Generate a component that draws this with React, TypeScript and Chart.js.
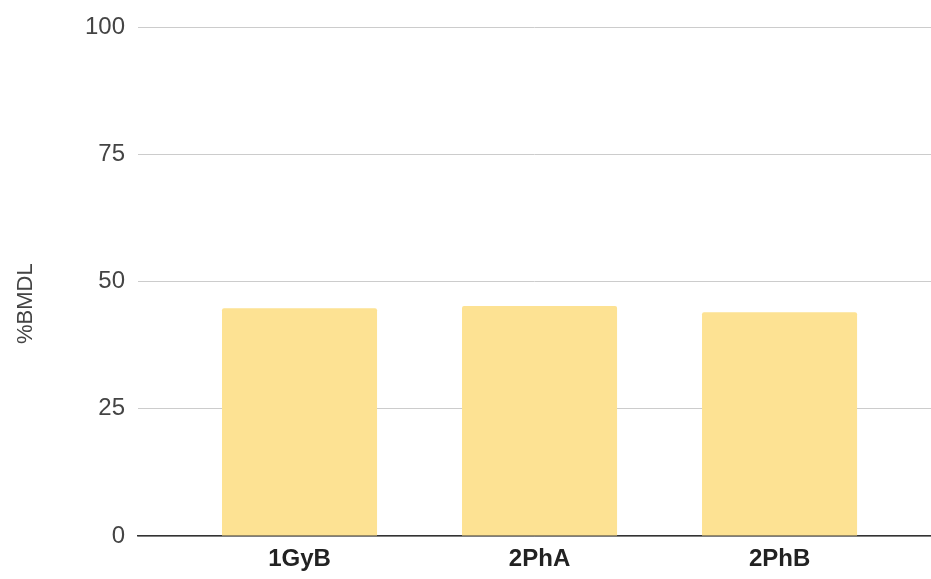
import React, { useEffect, useRef } from "react";
import { Chart, registerables } from "chart.js";

Chart.register(...registerables);

const categories = ["1GyB", "2PhA", "2PhB"];
const values = [44.8, 45.2, 44.0];
const yTicks = [0, 25, 50, 75, 100];
const yTitle = "%BMDL";

const yTitlePlugin = {
  id: "yTitleShifted",
  afterDraw(chart: any) {
    const { ctx, chartArea } = chart;
    ctx.save();
    ctx.font = "22px 'Liberation Sans', Arial, sans-serif";
    ctx.fillStyle = "#444444";
    ctx.textAlign = "center";
    ctx.textBaseline = "middle";
    ctx.translate(26, (chartArea.top + chartArea.bottom) / 2 + 22);
    ctx.rotate(-Math.PI / 2);
    ctx.fillText(yTitle, 0, 0);
    ctx.restore();
  },
};

export default function App() {
  const ref = useRef<HTMLCanvasElement | null>(null);

  useEffect(() => {
    document.body.style.margin = "0";
    const canvas = ref.current;
    if (!canvas) return;
    const chart = new Chart(canvas, {
      type: "bar",
      data: {
        datasets: [
          {
            label: yTitle,
            data: categories.map((c, i) => ({ x: i + 1, y: values[i] })),
            backgroundColor: "#fde293",
            borderRadius: 2,
            borderSkipped: "bottom",
            barPercentage: 0.646,
            categoryPercentage: 1,
          },
        ],
      },
      options: {
        responsive: false,
        animation: false,
        layout: { padding: { top: 27, right: 0, left: 0, bottom: 0 } },
        plugins: { legend: { display: false }, tooltip: { enabled: false } },
        scales: {
          x: {
            type: "linear",
            offset: false,
            min: 0.327,
            max: 3.631,
            afterBuildTicks: (axis: any) => {
              axis.ticks = categories.map((_, i) => ({ value: i + 1 }));
            },
            afterFit: (axis: any) => {
              axis.height = 43;
            },
            grid: { display: false, drawTicks: false, offset: false },
            border: { display: true, color: "#333333", width: 1.5 },
            ticks: {
              padding: 9,
              autoSkip: false,
              maxRotation: 0,
              color: "#222222",
              font: { family: "'Liberation Sans', Arial, sans-serif", size: 24, weight: "bold" },
              callback: (v: any) => categories[Math.round(Number(v)) - 1] ?? "",
            },
          },
          y: {
            min: 0,
            max: 100,
            afterBuildTicks: (axis: any) => {
              axis.ticks = yTicks.map((v) => ({ value: v }));
            },
            afterFit: (axis: any) => {
              axis.width = 138;
            },
            grid: { color: "#cccccc", lineWidth: 1, drawTicks: false },
            border: { display: false },
            ticks: {
              padding: 13,
              color: "#444444",
              font: { family: "'Liberation Sans', Arial, sans-serif", size: 24 },
            },
            title: { display: false, text: yTitle },
          },
        },
      },
      plugins: [yTitlePlugin],
    });
    return () => chart.destroy();
  }, []);

  return (
    <div style={{ width: 931, height: 579 }}>
      <canvas ref={ref} width={931} height={579} style={{ display: "block" }} />
    </div>
  );
}
